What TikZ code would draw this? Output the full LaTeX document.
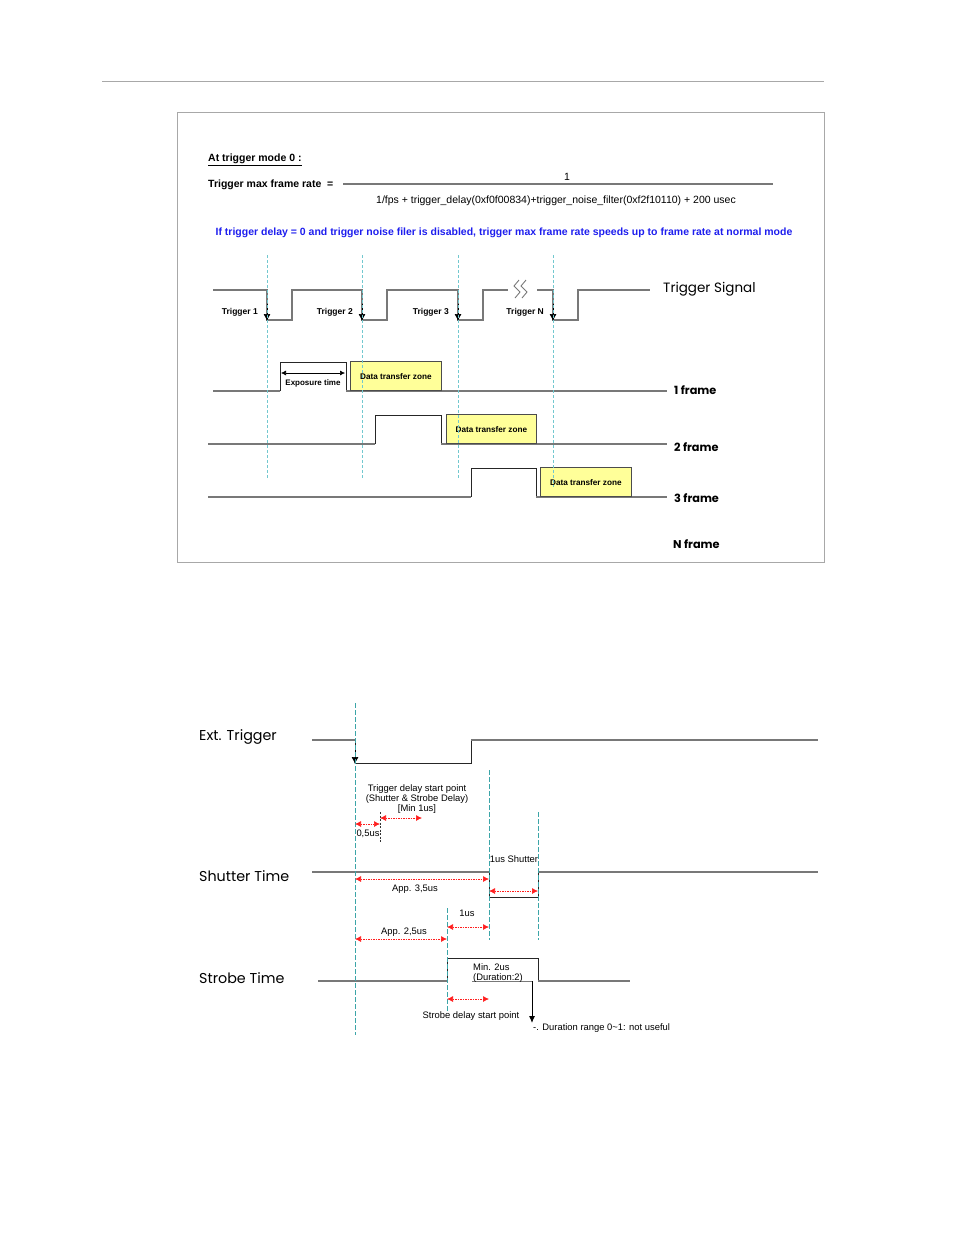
\documentclass[tikz,border=0pt]{standalone}
\usepackage{fontspec}
\setmainfont{Liberation Sans}
\newfontfamily\gothic{Poppins}
\usetikzlibrary{arrows.meta,positioning,calc}
\definecolor{waveGray}{HTML}{787878}
\definecolor{ruleGray}{HTML}{A8A8A8}
\definecolor{guideCyan}{HTML}{72C8CF}
\definecolor{guideTeal}{HTML}{3CA5A8}
\definecolor{noteBlue}{HTML}{1E1EEE}
\definecolor{zoneYellow}{HTML}{FFFF99}
\definecolor{dimRed}{HTML}{FF1E1E}

\begin{document}
\begin{tikzpicture}[x=1pt, y=-1pt,
  sig/.style={draw=waveGray, line width=1.3pt},
  edge/.style={draw=black!85, line width=0.9pt},
  guideTop/.style={draw=guideCyan, dash pattern=on 3pt off 2pt, line width=0.9pt},
  guideBot/.style={draw=guideTeal, dash pattern=on 5pt off 2pt, line width=0.9pt},
  tick/.style={-{Latex[length=7pt,width=7pt]}, draw=black, line width=0.7pt},
  dimArrow/.style={{Latex[length=6pt,width=6pt]}-{Latex[length=6pt,width=6pt]}, draw=dimRed, dash pattern=on 1.5pt off 1pt, line width=0.7pt},
  zoneBox/.style={rectangle, draw=black!70, fill=zoneYellow, line width=0.7pt, minimum height=29pt, inner sep=0pt, font=\fontsize{8.2}{9}\selectfont\bfseries},
  trigLbl/.style={anchor=east, inner sep=0pt, font=\fontsize{8.5}{9}\selectfont\bfseries},
  frameLbl/.style={anchor=west, inner sep=0pt, font=\gothic\fontsize{11.3}{12}\selectfont\bfseries},
  rowLbl/.style={anchor=west, inner sep=0pt, font=\gothic\fontsize{14.3}{16}\selectfont},
  lbl/.style={inner sep=0pt, font=\fontsize{9.4}{10}\selectfont},
  topTxt/.style={inner sep=0pt, font=\fontsize{10.5}{12}\selectfont}
]
\useasboundingbox (0,0) rectangle (954,1235);

\draw[draw=ruleGray, line width=0.8pt] (102,81) -- (824,81);
\draw[draw=ruleGray, line width=0.6pt] (177,112) rectangle (824,562);

\node[topTxt, anchor=west, font=\fontsize{10.5}{12}\selectfont\bfseries] (modeTitle) at (208,160) {\underline{At trigger mode 0 :}};
\node[topTxt, anchor=west, font=\fontsize{10.5}{12}\selectfont\bfseries] (rateName) at (208,185) {Trigger max frame rate \ =};
\coordinate (fracLeft) at (343,184);
\coordinate (fracRight) at (773,184);
\draw[draw=waveGray, line width=1.2pt] (fracLeft) -- (fracRight);
\node[topTxt] (numerator) at (567,177) {1};
\node[topTxt] (denominator) at (556,201) {1/fps + trigger\_delay(0xf0f00834)+trigger\_noise\_filter(0xf2f10110) + 200 usec};
\node[topTxt, text=noteBlue, font=\fontsize{10.5}{12}\selectfont\bfseries] (speedNote) at (504,233) {If trigger delay = 0 and trigger noise filer is disabled, trigger max frame rate speeds up to frame rate at normal mode};

\draw[sig] (213,290) -- (267,290) -- (267,320) -- (292,320) -- (292,290) -- (362,290) -- (362,320) -- (387,320) -- (387,290) -- (458,290) -- (458,320) -- (483,320) -- (483,290) -- (508,290);
\draw[sig] (537,290) -- (553,290) -- (553,320) -- (578,320) -- (578,290) -- (650,290);
\foreach \bx in {516,523}
  \draw[draw=waveGray, line width=0.9pt] (\bx+3,280) -- (\bx-2,286) -- (\bx+4,292) -- (\bx-1,298);
\foreach \tx/\tn in {267/1,362/2,458/3,553/N} {
  \draw[tick] (\tx,304) -- (\tx,321);
  \node[trigLbl] (trig\tn) at (\tx-9,312) {Trigger \tn};
}
\node[anchor=west, inner sep=0pt, font=\gothic\fontsize{13.5}{15}\selectfont] (sigName) at (663,289) {Trigger Signal};

\draw[sig] (213,391) -- (280,391);
\draw[edge] (280,391) -- (280,362) -- (346,362) -- (346,391);
\draw[sig] (346,391) -- (667,391);
\draw[{Latex[length=5pt,width=5pt]}-{Latex[length=5pt,width=5pt]}, line width=0.6pt] (281,373) -- (345,373);
\node[inner sep=0pt, font=\fontsize{8}{9}\selectfont\bfseries] (expTime) at (313,383) {Exposure time};
\node[zoneBox, minimum width=91pt, anchor=south west] (zoneOne) at (350,391) {Data transfer zone};
\node[frameLbl] (frameOne) at (674,390) {1 frame};

\draw[sig] (208,444) -- (375,444);
\draw[edge] (375,444) -- (375,415) -- (441,415) -- (441,444);
\draw[sig] (441,444) -- (667,444);
\node[zoneBox, minimum width=90pt, anchor=south west] (zoneTwo) at (446,444) {Data transfer zone};
\node[frameLbl] (frameTwo) at (674,447) {2 frame};

\draw[sig] (208,497) -- (471,497);
\draw[edge] (471,497) -- (471,468) -- (536,468) -- (536,497);
\draw[sig] (536,497) -- (667,497);
\node[zoneBox, minimum width=91pt, anchor=south west] (zoneThree) at (540,497) {Data transfer zone};
\node[frameLbl] (frameThree) at (674,498) {3 frame};
\node[frameLbl] (frameN) at (673,544) {N frame};

\foreach \gx/\gy in {267/478,362/478,458/478,553/487}
  \draw[guideTop] (\gx,255) -- (\gx,\gy);

\node[rowLbl] (extLbl) at (199,737) {Ext. Trigger};
\node[rowLbl] (shutLbl) at (199,876) {Shutter Time};
\node[rowLbl] (strobeLbl) at (199,978) {Strobe Time};

\draw[sig] (312,740) -- (355,740);
\draw[edge] (355,740) -- (355,763) -- (471,763) -- (471,740);
\draw[sig] (471,740) -- (818,740);
\draw[tick] (355,747) -- (355,764);

\draw[sig] (312,872) -- (489,872);
\draw[edge] (489,872) -- (489,897) -- (538,897) -- (538,872);
\draw[sig] (538,872) -- (818,872);

\draw[sig] (318,981) -- (447,981);
\draw[edge] (447,981) -- (447,958) -- (538,958) -- (538,981);
\draw[sig] (538,981) -- (630,981);
\draw[draw=waveGray, line width=0.9pt] (472,981) -- (532,981);
\draw[-{Latex[length=7pt,width=6pt]}, draw=black, line width=1pt] (532,981) -- (532,1023);

\draw[guideBot] (355,703) -- (355,1035);
\draw[guideBot] (489,770) -- (489,940);
\draw[guideBot] (538,812) -- (538,940);
\draw[guideBot] (447,908) -- (447,1011);
\draw[draw=black!80, dash pattern=on 2pt off 1.5pt, line width=0.7pt] (380,812) -- (380,843);

\node[lbl, align=center] (delayStart) at (417,799) {Trigger delay start point\\(Shutter \& Strobe Delay)\\{[Min 1us]}};
\draw[dimArrow] (355,824) -- (380,824);
\node[lbl] (halfUs) at (368,834) {0,5us};
\draw[dimArrow] (380,818) -- (422,818);
\node[lbl] (shutUs) at (514,859) {1us Shutter};
\draw[dimArrow] (355,879) -- (489,879);
\node[lbl] (appThree) at (415,889) {App. 3,5us};
\draw[dimArrow] (489,891) -- (538,891);
\node[lbl] (oneUs) at (467,913) {1us};
\draw[dimArrow] (447,927) -- (489,927);
\node[lbl] (appTwo) at (404,932) {App. 2,5us};
\draw[dimArrow] (355,939) -- (447,939);
\node[lbl, align=left, anchor=north west] (minTwo) at (473,963) {Min. 2us\\(Duration:2)};
\draw[dimArrow] (447,999) -- (489,999);
\node[lbl] (strobeStart) at (471,1016) {Strobe delay start point};
\node[lbl, anchor=west] (durNote) at (533,1028) {-. Duration range 0\textasciitilde1: not useful};
\end{tikzpicture}
\end{document}
